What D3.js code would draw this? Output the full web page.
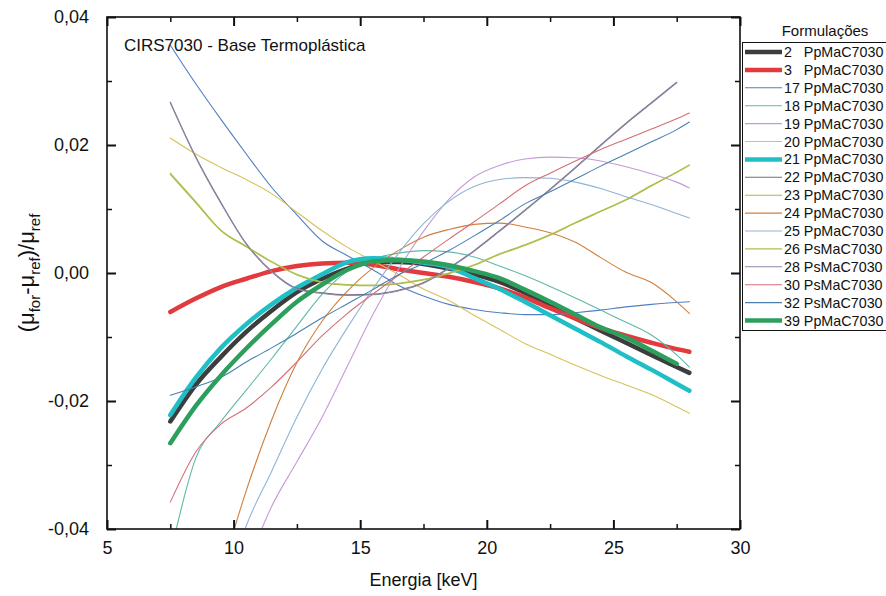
<!DOCTYPE html>
<html>
<head>
<meta charset="utf-8">
<script src="https://cdn.jsdelivr.net/npm/d3@7/dist/d3.min.js"></script>
<style>
  body { margin: 0; background: #fff; }
  svg text { font-family: "Liberation Sans", Arial, sans-serif; fill: #111; }
</style>
</head>
<body>
<div id="chart"></div>
<script>
// Energy grid (keV) shared by every formulation
const energies = [7.5, 8.5, 9.5, 10.5, 11.5, 12.5, 13.5, 14.5, 15.5, 16.5, 17.5, 18.5, 19.5, 20.5, 21.5, 22.5, 23.5, 24.5, 25.5, 26.5, 27.5, 28];

// (mu_for - mu_ref)/mu_ref for each formulation
const f2  = [-0.0232, -0.0175, -0.0131, -0.0092, -0.0059, -0.0030, -0.0009, 0.0007, 0.0017, 0.0017, 0.0014, 0.0007, -0.0002, -0.0014, -0.0031, -0.0052, -0.0071, -0.0090, -0.0109, -0.0128, -0.0147, -0.0156];
const f3  = [-0.0061, -0.0040, -0.0022, -0.0009, 0.0003, 0.0011, 0.0015, 0.0016, 0.0013, 0.0006, 0.0000, -0.0006, -0.0014, -0.0024, -0.0038, -0.0055, -0.0071, -0.0086, -0.0098, -0.0109, -0.0119, -0.0123];
const f17 = [0.0356, 0.0296, 0.0240, 0.0186, 0.0134, 0.0091, 0.0050, 0.0027, 0.0005, -0.0019, -0.0036, -0.0049, -0.0057, -0.0062, -0.0065, -0.0065, -0.0062, -0.0058, -0.0053, -0.0049, -0.0046, -0.0045];
const f18 = [-0.0440, -0.0290, -0.0232, -0.0183, -0.0134, -0.0083, -0.0033, 0.0003, 0.0022, 0.0031, 0.0035, 0.0033, 0.0025, 0.0011, -0.0004, -0.0021, -0.0039, -0.0058, -0.0077, -0.0097, -0.0128, -0.0147];
const f19 = [null, null, null, -0.0460, -0.0365, -0.0295, -0.0225, -0.0145, -0.0065, 0.0005, 0.0065, 0.0115, 0.0150, 0.0168, 0.0178, 0.0181, 0.0180, 0.0175, 0.0166, 0.0155, 0.0142, 0.0133];
const f20 = [0.0211, 0.0186, 0.0165, 0.0146, 0.0124, 0.0095, 0.0066, 0.0040, 0.0019, -0.0002, -0.0025, -0.0043, -0.0066, -0.0088, -0.0110, -0.0127, -0.0144, -0.0160, -0.0175, -0.0190, -0.0209, -0.0219];
const f21 = [-0.0222, -0.0164, -0.0117, -0.0080, -0.0049, -0.0023, -0.0002, 0.0017, 0.0023, 0.0021, 0.0016, 0.0009, -0.0008, -0.0025, -0.0045, -0.0066, -0.0087, -0.0108, -0.0130, -0.0151, -0.0173, -0.0184];
const f22 = [0.0267, 0.0182, 0.0110, 0.0046, 0.0003, -0.0024, -0.0031, -0.0034, -0.0033, -0.0027, -0.0015, 0.0008, 0.0035, 0.0066, 0.0098, 0.0131, 0.0165, 0.0200, 0.0234, 0.0266, 0.0298, null];
const f23 = [0.0154, 0.0110, 0.0066, 0.0041, 0.0017, -0.0003, -0.0015, -0.0019, -0.0020, -0.0017, -0.0011, -0.0001, 0.0012, 0.0029, 0.0043, 0.0059, 0.0078, 0.0096, 0.0114, 0.0136, 0.0157, 0.0168];
const f24 = [null, null, -0.0470, -0.0340, -0.0230, -0.0140, -0.0075, -0.0028, 0.0008, 0.0035, 0.0056, 0.0068, 0.0076, 0.0078, 0.0072, 0.0063, 0.0048, 0.0024, 0.0001, -0.0015, -0.0045, -0.0063];
const f25 = [null, null, -0.0520, -0.0395, -0.0310, -0.0225, -0.0150, -0.0085, -0.0025, 0.0030, 0.0077, 0.0112, 0.0135, 0.0146, 0.0149, 0.0148, 0.0142, 0.0132, 0.0119, 0.0107, 0.0093, 0.0086];
const f26 = [0.0156, 0.0112, 0.0067, 0.0042, 0.0018, -0.0002, -0.0014, -0.0018, -0.0019, -0.0016, -0.0010, 0.0000, 0.0013, 0.0030, 0.0044, 0.0060, 0.0079, 0.0097, 0.0115, 0.0137, 0.0158, 0.0169];
const f28 = [0.0266, 0.0181, 0.0109, 0.0045, 0.0002, -0.0025, -0.0032, -0.0035, -0.0034, -0.0028, -0.0016, 0.0007, 0.0034, 0.0065, 0.0097, 0.0130, 0.0164, 0.0199, 0.0233, 0.0265, 0.0297, null];
const f30 = [-0.0358, -0.0280, -0.0236, -0.0211, -0.0178, -0.0139, -0.0098, -0.0063, -0.0033, -0.0004, 0.0025, 0.0053, 0.0080, 0.0108, 0.0136, 0.0156, 0.0175, 0.0193, 0.0209, 0.0225, 0.0241, 0.0250];
const f32 = [-0.0191, -0.0178, -0.0163, -0.0139, -0.0117, -0.0094, -0.0070, -0.0048, -0.0026, -0.0003, 0.0015, 0.0035, 0.0058, 0.0082, 0.0108, 0.0127, 0.0147, 0.0167, 0.0186, 0.0205, 0.0224, 0.0236];
const f39 = [-0.0266, -0.0208, -0.0160, -0.0118, -0.0080, -0.0045, -0.0018, 0.0005, 0.0018, 0.0020, 0.0018, 0.0012, 0.0003, -0.0008, -0.0026, -0.0045, -0.0065, -0.0085, -0.0101, -0.0121, -0.0142, null];

// Legend entries, in plotting order
const labelNums  = ["2", "3", "17", "18", "19", "20", "21", "22", "23", "24", "25", "26", "28", "30", "32", "39"];
const labelNames = ["PpMaC7030", "PpMaC7030", "PpMaC7030", "PpMaC7030", "PpMaC7030", "PpMaC7030", "PpMaC7030", "PpMaC7030",
                    "PpMaC7030", "PpMaC7030", "PpMaC7030", "PsMaC7030", "PsMaC7030", "PsMaC7030", "PsMaC7030", "PpMaC7030"];
const seriesValues = [f2, f3, f17, f18, f19, f20, f21, f22, f23, f24, f25, f26, f28, f30, f32, f39];

// Axis ticks
const xMajor = [5, 10, 15, 20, 25, 30];
const xMinor = [7.5, 12.5, 17.5, 22.5, 27.5];
const yMajor = [-0.04, -0.02, 0, 0.02, 0.04];
const yMinor = [-0.03, -0.01, 0.01, 0.03];

// Styles
const lineColors = {
    "2": "#3d3d3d", "3": "#e23a3e", "17": "#4f7fc4", "18": "#5fb8a8", "19": "#c69ad8", "20": "#d8c25c",
    "21": "#1fbfc6", "22": "#6e6e80", "23": "#b5b345", "24": "#cf7f3e", "25": "#8fb4d6", "26": "#a8c34c",
    "28": "#8f86a6", "30": "#d46f74", "32": "#4a80b0", "39": "#2d9f5c"
};
const thick = new Set(["2", "3", "21", "39"]);

const width = 886, height = 596;
const plot = { left: 107, right: 740, top: 17, bottom: 529 };

const svg = d3.select("#chart").append("svg")
    .attr("width", width)
    .attr("height", height);

const x = d3.scaleLinear().domain([5, 30]).range([plot.left, plot.right]);
const y = d3.scaleLinear().domain([-0.04, 0.04]).range([plot.bottom, plot.top]);

const fmtY = d => d.toFixed(2).replace(".", ",");

//Clip so curves that dive below -0,04 stop at the frame
svg.append("clipPath").attr("id", "plotClip")
    .append("rect")
    .attr("x", plot.left).attr("y", plot.top)
    .attr("width", plot.right - plot.left).attr("height", plot.bottom - plot.top);

//Data lines
const line = d3.line()
    .defined(d => d[1] !== null)
    .x(d => x(d[0]))
    .y(d => y(d[1]))
    .curve(d3.curveMonotoneX);

const series = labelNums.map((id, i) => ({
    id: id,
    label: id.length === 1 ? `${id}   ${labelNames[i]}` : `${id} ${labelNames[i]}`,
    points: energies.map((e, j) => [e, seriesValues[i][j]])
}));

svg.append("g")
    .attr("clip-path", "url(#plotClip)")
    .selectAll("path")
    .data(series)
    .join("path")
    .attr("fill", "none")
    .attr("stroke", d => lineColors[d.id])
    .attr("stroke-width", d => thick.has(d.id) ? 4.5 : 1.1)
    .attr("stroke-linejoin", "round")
    .attr("stroke-linecap", "round")
    .attr("d", d => line(d.points));

//Axes: ticks point inward on all four sides
function styleAxis(g, w) {
    g.select(".domain").remove();
    g.selectAll(".tick line").attr("stroke", "#111").attr("stroke-width", w);
    g.selectAll(".tick text").attr("font-size", 18);
}

svg.append("g")
    .attr("transform", `translate(0,${plot.bottom})`)
    .call(d3.axisBottom(x).tickValues(xMajor).tickSize(-9).tickPadding(12).tickFormat(d3.format("d")))
    .call(g => styleAxis(g, 2));
svg.append("g")
    .attr("transform", `translate(0,${plot.bottom})`)
    .call(d3.axisBottom(x).tickValues(xMinor).tickSize(-5).tickFormat(""))
    .call(g => styleAxis(g, 1.5));
svg.append("g")
    .attr("transform", `translate(0,${plot.top})`)
    .call(d3.axisTop(x).tickValues(xMajor).tickSize(-9).tickFormat(""))
    .call(g => styleAxis(g, 2));
svg.append("g")
    .attr("transform", `translate(0,${plot.top})`)
    .call(d3.axisTop(x).tickValues(xMinor).tickSize(-5).tickFormat(""))
    .call(g => styleAxis(g, 1.5));

svg.append("g")
    .attr("transform", `translate(${plot.left},0)`)
    .call(d3.axisLeft(y).tickValues(yMajor).tickSize(-9).tickPadding(18).tickFormat(fmtY))
    .call(g => styleAxis(g, 2));
svg.append("g")
    .attr("transform", `translate(${plot.left},0)`)
    .call(d3.axisLeft(y).tickValues(yMinor).tickSize(-5).tickFormat(""))
    .call(g => styleAxis(g, 1.5));
svg.append("g")
    .attr("transform", `translate(${plot.right},0)`)
    .call(d3.axisRight(y).tickValues(yMajor).tickSize(-9).tickFormat(""))
    .call(g => styleAxis(g, 2));
svg.append("g")
    .attr("transform", `translate(${plot.right},0)`)
    .call(d3.axisRight(y).tickValues(yMinor).tickSize(-5).tickFormat(""))
    .call(g => styleAxis(g, 1.5));

//Frame
svg.append("rect")
    .attr("x", plot.left).attr("y", plot.top)
    .attr("width", plot.right - plot.left).attr("height", plot.bottom - plot.top)
    .attr("fill", "none")
    .attr("stroke", "#111")
    .attr("stroke-width", 1.6);

//Axis titles
svg.append("text")
    .attr("x", (plot.left + plot.right) / 2)
    .attr("y", 586)
    .attr("text-anchor", "middle")
    .attr("font-size", 18)
    .text("Energia [keV]");

const yTitle = svg.append("text")
    .attr("transform", `translate(34,${y(0)}) rotate(-90)`)
    .attr("text-anchor", "middle")
    .attr("font-size", 22);
[["(μ", null], ["for", "sub"], ["-μ", null], ["ref", "sub"], [")/μ", null], ["ref", "sub"]].forEach(([t, kind]) => {
    const ts = yTitle.append("tspan").text(t);
    if (kind === "sub") {
        ts.attr("font-size", 15).attr("dy", 6);
    } else if (t !== "(μ") {
        ts.attr("dy", -6);
    }
});

//Annotation inside the plot
svg.append("text")
    .attr("x", 124)
    .attr("y", 51)
    .attr("font-size", 17)
    .text("CIRS7030 - Base Termoplástica");

//Legend
const legend = svg.append("g");
legend.append("text")
    .attr("x", 825)
    .attr("y", 36)
    .attr("text-anchor", "middle")
    .attr("font-size", 15)
    .text("Formulações");
legend.append("rect")
    .attr("x", 742.5).attr("y", 42.5)
    .attr("width", 150).attr("height", 288)
    .attr("fill", "#fff")
    .attr("stroke", "#111")
    .attr("stroke-width", 1);

const rowY = i => 52 + i * 17.9;
const rows = legend.selectAll("g.row")
    .data(series)
    .join("g")
    .attr("class", "row")
    .attr("transform", (d, i) => `translate(0,${rowY(i)})`);
rows.append("line")
    .attr("x1", 745).attr("x2", 782)
    .attr("stroke", d => lineColors[d.id])
    .attr("stroke-width", d => thick.has(d.id) ? 4.5 : 1.1);
rows.append("text")
    .attr("x", 784).attr("y", 5)
    .attr("font-size", 14.3)
    .style("white-space", "pre")
    .text(d => d.label);
</script>
</body>
</html>
